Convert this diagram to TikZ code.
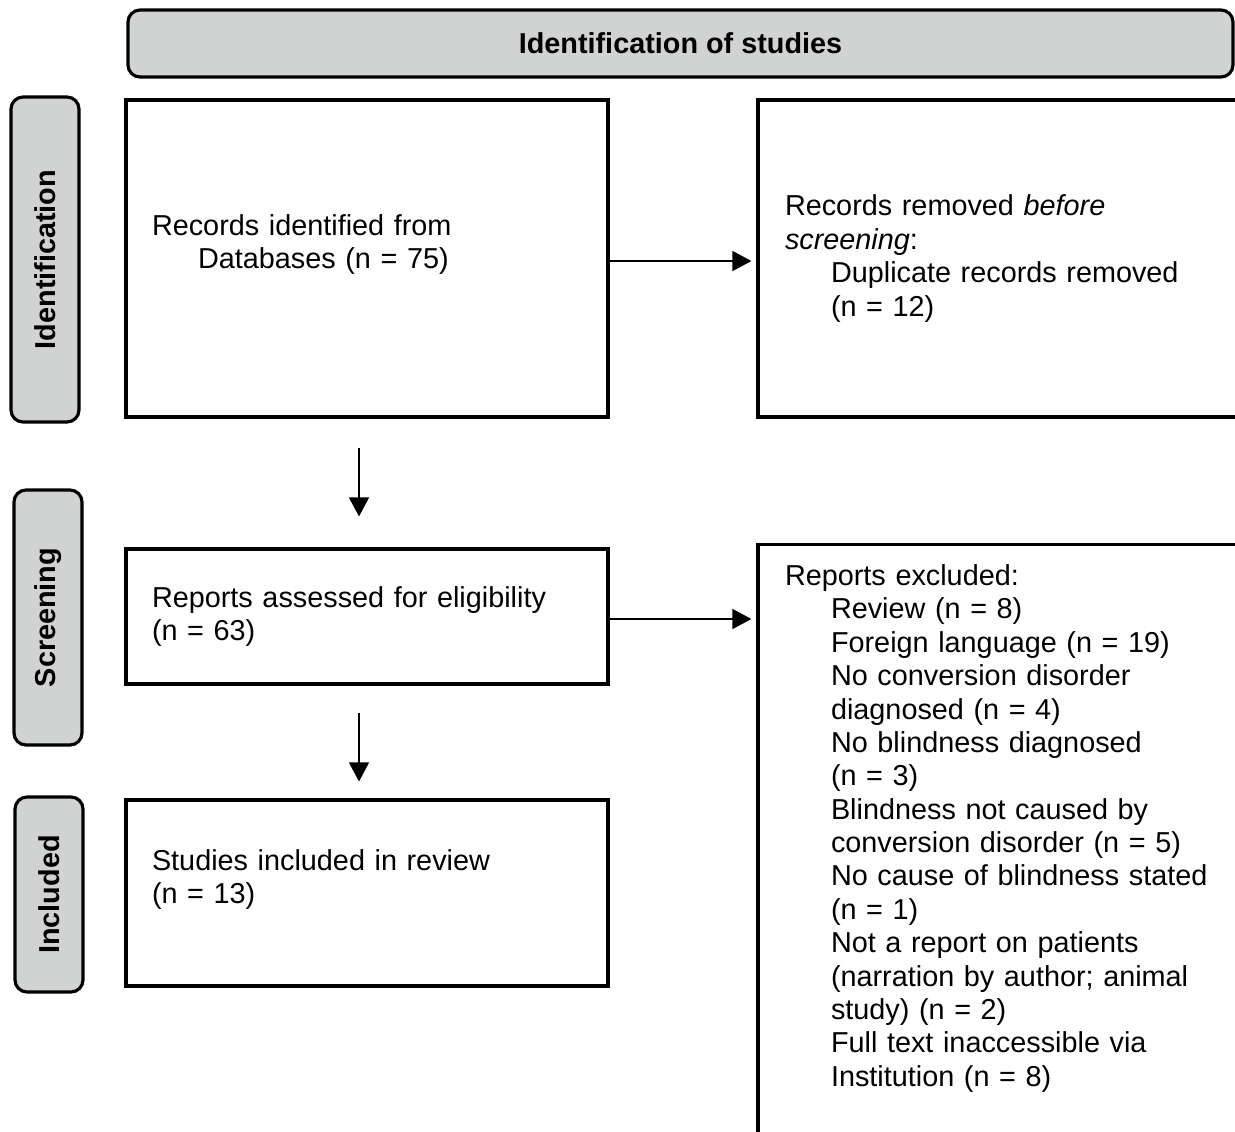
\documentclass[tikz,border=0pt]{standalone}
\usepackage{fontspec}
\setmainfont{Liberation Sans}
\usepackage{xcolor}
\usepackage{tikz}
\usetikzlibrary{positioning,arrows.meta}
\definecolor{phasegray}{RGB}{209,211,210}

\begin{document}
\begin{tikzpicture}[
  font=\fontsize{16.4}{19}\selectfont,
  phase/.style={draw, line width=1.8pt, fill=phasegray, rounded corners=0.24cm, font=\fontsize{16.4}{19}\selectfont\bfseries},
  stagebox/.style={draw, line width=1.8pt, align=left, inner ysep=0.4cm},
  flow/.style={-{Triangle[length=0.38cm,width=0.4cm]}, line width=0.8pt}
]
\useasboundingbox (0,0) rectangle (24.7,-22.62);
\clip (0,0) rectangle (24.7,-22.62);

% Header
\node[phase, minimum width=22.1cm, minimum height=1.34cm] (head) at (13.61,-0.87) {Identification of studies};

% Phases
\node[phase, rotate=90, minimum width=6.5cm, minimum height=1.36cm] (ident) at (0.9,-5.19) {Identification};
\node[phase, rotate=90, minimum width=5.1cm, minimum height=1.36cm] (screen) at (0.96,-12.35) {Screening};
\node[phase, rotate=90, minimum width=3.9cm, minimum height=1.36cm] (incl) at (0.98,-17.89) {Included};

% Left column
\node[stagebox, text width=8.6cm, inner xsep=0.52cm, minimum height=6.34cm] (recs) at (7.34,-5.17) {Records identified from\\\hspace*{0.92cm}Databases (n = 75)\\\mbox{}};
\node[stagebox, text width=8.6cm, inner xsep=0.52cm, minimum height=2.7cm] (assessed) at (7.34,-12.33) {Reports assessed for eligibility\\(n = 63)};
\node[stagebox, text width=8.6cm, inner xsep=0.52cm, minimum height=3.72cm] (studies) at (7.34,-17.86) {Studies included in review\\(n = 13)\\\mbox{}};

% Right column
\node[stagebox, text width=8.76cm, inner xsep=0.54cm, minimum height=6.34cm] (removed) at (20.08,-5.17) {Records removed \textit{before}\\\textit{screening}:\\\hspace*{0.92cm}Duplicate records removed\\\hspace*{0.92cm}(n = 12)};
\node[stagebox, text width=8.76cm, inner xsep=0.54cm, anchor=north] (excluded) at (20.08,-10.86) {Reports excluded:\\
\hspace*{0.92cm}Review (n = 8)\\
\hspace*{0.92cm}Foreign language (n = 19)\\
\hspace*{0.92cm}No conversion disorder\\
\hspace*{0.92cm}diagnosed (n = 4)\\
\hspace*{0.92cm}No blindness diagnosed\\
\hspace*{0.92cm}(n = 3)\\
\hspace*{0.92cm}Blindness not caused by\\
\hspace*{0.92cm}conversion disorder (n = 5)\\
\hspace*{0.92cm}No cause of blindness stated\\
\hspace*{0.92cm}(n = 1)\\
\hspace*{0.92cm}Not a report on patients\\
\hspace*{0.92cm}(narration by author; animal\\
\hspace*{0.92cm}study) (n = 2)\\
\hspace*{0.92cm}Full text inaccessible via\\
\hspace*{0.92cm}Institution (n = 8)\\\mbox{}\\\mbox{}};

% Arrows
\draw[flow, shorten >=0.1cm] ([yshift=-0.05cm]recs.east) -- ([yshift=-0.05cm]removed.west);
\draw[flow, shorten >=0.1cm] ([yshift=-0.05cm]assessed.east) -- ([yshift=-0.05cm]assessed.east -| excluded.west);
\draw[flow, shorten <=0.58cm, shorten >=0.62cm] ([xshift=-0.16cm]recs.south) -- ([xshift=-0.16cm]assessed.north);
\draw[flow, shorten <=0.54cm, shorten >=0.34cm] ([xshift=-0.16cm]assessed.south) -- ([xshift=-0.16cm]studies.north);
\end{tikzpicture}
\end{document}
